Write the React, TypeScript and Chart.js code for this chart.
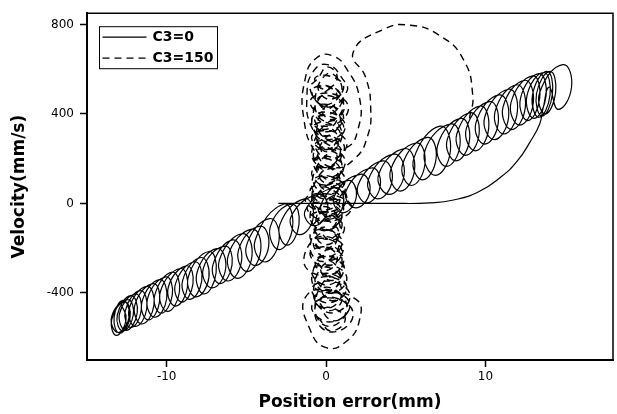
import React, { useEffect, useRef } from "react";
import { Chart, registerables } from "chart.js";

Chart.register(...registerables);

// Tick values
const xTickValues = [-10, 0, 10];
const yTickValues = [-400, 0, 400, 800];

// Series C3=0 (solid): looping band along the diagonal, then return arc and flat segment
const solidX = [
  -12.85, -12.55, -13.15, -13.45,
  -12.65, -12.3, -12.95, -13.3,
  -12.75, -12.35, -13.05, -13.45,
  -12.45, -12.1, -12.75, -13.1,
  -12.25, -11.85, -12.55, -12.95,
  -11.95, -11.6, -12.25, -12.6,
  -11.65, -11.25, -11.95, -12.35,
  -11.25, -10.8, -11.55, -12.0,
  -10.85, -10.45, -11.15, -11.55,
  -10.45, -10.0, -10.75, -11.2,
  -10.05, -9.65, -10.35, -10.75,
  -9.65, -9.2, -9.95, -10.4,
  -9.15, -8.7, -9.45, -9.9,
  -8.75, -8.35, -9.05, -9.45,
  -8.25, -7.8, -8.55, -9.0,
  -7.85, -7.35, -8.15, -8.65,
  -7.35, -6.9, -7.65, -8.1,
  -6.85, -6.3, -7.15, -7.7,
  -6.35, -5.9, -6.65, -7.1,
  -5.85, -5.3, -6.15, -6.7,
  -5.25, -4.65, -5.55, -6.15,
  -4.65, -4.1, -4.95, -5.5,
  -4.15, -3.6, -4.45, -5.0,
  -3.55, -2.95, -3.85, -4.45,
  -2.65, -2.1, -2.95, -3.5,
  -2.15, -1.7, -2.45, -2.9,
  -1.35, -0.8, -1.65, -2.2,
  -0.45, 0.1, -0.75, -1.3,
  0.55, 1.1, 0.25, -0.3,
  1.35, 1.9, 1.05, 0.5,
  2.15, 2.75, 1.85, 1.25,
  2.85, 3.4, 2.55, 2.0,
  3.55, 4.15, 3.25, 2.65,
  4.25, 4.9, 3.95, 3.3,
  4.95, 5.55, 4.65, 4.05,
  5.65, 6.2, 5.35, 4.8,
  6.35, 6.9, 6.05, 5.5,
  7.15, 7.8, 6.85, 6.2,
  7.85, 8.4, 7.55, 7.0,
  8.45, 9.0, 8.15, 7.6,
  9.05, 9.6, 8.75, 8.2,
  9.65, 10.2, 9.35, 8.8,
  10.25, 10.8, 9.95, 9.4,
  10.85, 11.45, 10.55, 9.95,
  11.45, 12.0, 11.15, 10.6,
  11.95, 12.5, 11.65, 11.1,
  12.45, 13.0, 12.15, 11.6,
  12.95, 13.4, 12.65, 12.2,
  13.35, 13.8, 13.05, 12.6,
  13.65, 14.05, 13.35, 12.95,
  13.85, 14.2, 13.55, 13.2,
  14.05, 14.4, 13.75, 13.4,
  14.85, 15.4, 14.55, 14.0,
  13.6, 13.4, 12.8, 12.0, 11.0, 9.6, 8.0, 6.5, 4.0, 1.0, -1.5, -3.0,
];
const solidY = [
  -450, -520, -590, -520,
  -440, -510, -580, -510,
  -433, -505, -577, -505,
  -430, -500, -570, -500,
  -412, -490, -568, -490,
  -405, -480, -555, -480,
  -390, -470, -550, -470,
  -371, -455, -539, -455,
  -359, -440, -521, -440,
  -341, -425, -509, -425,
  -329, -410, -491, -410,
  -307, -395, -483, -395,
  -291, -375, -459, -375,
  -279, -360, -441, -360,
  -261, -345, -429, -345,
  -242, -330, -418, -330,
  -215, -310, -405, -310,
  -202, -290, -378, -290,
  -191, -275, -359, -275,
  -163, -255, -347, -255,
  -135, -235, -335, -235,
  -115, -210, -305, -210,
  -102, -190, -278, -190,
  -68, -165, -262, -165,
  -3, -105, -207, -105,
  -3, -95, -187, -95,
  20, -60, -140, -60,
  40, -30, -100, -30,
  70, 0, -70, 0,
  102, 30, -42, 30,
  130, 55, -20, 55,
  158, 80, 2, 80,
  190, 105, 20, 105,
  220, 130, 40, 130,
  245, 150, 55, 150,
  270, 175, 80, 175,
  295, 200, 105, 200,
  345, 235, 125, 235,
  355, 260, 165, 260,
  380, 285, 190, 285,
  405, 310, 215, 310,
  435, 335, 235, 335,
  455, 360, 265, 360,
  485, 385, 285, 385,
  510, 410, 310, 410,
  530, 430, 330, 430,
  550, 450, 350, 450,
  570, 470, 370, 470,
  580, 480, 380, 480,
  585, 485, 385, 485,
  590, 490, 390, 490,
  590, 495, 400, 495,
  620, 520, 420, 520,
  420, 355, 275, 190, 120, 53, 15, 2, 0, 0, 0, 0,
];

// Series C3=150 (dashed): arc from the band up and over, then dense column near zero error
const dashedX = [
  9.0, 9.2, 8.6, 7.1, 5.3, 3.6, 1.7, 2.5, 2.8, 2.6, 1.8, 0.5, -0.6, -1.4, -1.3, -0.6, 0.4, 1.3, 2.1, 2.0, 1.3, 0.2, -0.9, -1.2, -0.8, 0.1, 1.0,
  1.3, 0.1, -0.9,
  0.1, 1.0, -0.1, -1.0,
  0.4, 1.4, 0.2, -0.8,
  0.2, 1.1, 0.0, -0.9,
  0.3, 1.2, 0.1, -0.8,
  0.1, 0.9, -0.1, -0.9,
  0.4, 1.3, 0.2, -0.7,
  0.2, 1.0, 0.0, -0.8,
  0.3, 1.2, 0.1, -0.8,
  0.1, 0.9, -0.1, -0.9,
  0.3, 1.2, 0.1, -0.8,
  0.2, 1.2, 0.0, -1.0,
  0.1, 1.3, -0.1, -1.3,
  0.3, 1.6, 0.1, -1.2,
  0.1, 1.0, -0.1, -1.0,
  0.2, 1.0, 0.0, -0.8,
  0.0, 0.8, -0.2, -1.0,
  0.2, 1.0, 0.0, -0.8,
  0.1, 1.0, -0.1, -1.0,
  0.3, 1.1, 0.1, -0.7,
  0.2, 1.1, 0.0, -0.9,
  0.4, 1.3, 0.2, -0.7,
  0.3, 1.3, 0.1, -0.9,
  0.5, 1.5, 0.3, -0.7,
  0.4, 1.5, 0.2, -0.9,
  0.6, 1.7, 0.4, -0.7,
  0.0, 1.9, 2.1, 1.3, 0.0, -1.0, -1.3,
  0.4, 1.3, 0.2, -0.7,
  0.2, 1.0, 0.0, -0.8,
  0.1, 0.9, -0.1, -0.9,
  0.3, 1.0, 0.1, -1.4,
  0.0, 0.8, -0.2, -1.0,
  0.2, 0.9, 0.0, -0.7,
  0.1, 1.0, -0.1, -1.0,
  0.3, 1.3, 0.1, -0.9,
  0.1, 0.9, -0.1, -0.9,
  0.3, 1.0, 0.1, -0.6,
  0.1, 0.9, -0.1, -0.9,
  0.3, 1.0, 0.1, -0.6,
  0.1, 0.9, -0.1, -0.9,
  0.3, 1.1, 0.1, -0.7,
  0.1, 1.0, -0.1, -1.0,
  -0.5,
  0.1, 0.7, -0.1, -0.7,
  0.4, 1.1, 0.2, -0.5,
  0.2, 0.7, 0.0, -0.5,
  0.5, 1.15, 0.3, -0.35,
  0.1, 0.7, -0.1, -0.7,
  0.4, 1.1, 0.2, -0.5,
  0.2, 0.7, 0.0, -0.5,
  0.5, 1.15, 0.3, -0.35,
  0.1, 0.7, -0.1, -0.7,
  0.4, 1.1, 0.2, -0.5,
  0.2, 0.7, 0.0, -0.5,
  0.5, 1.15, 0.3, -0.35,
  0.1, 0.9, -0.1, -0.9,
  0.4, 1.1, 0.2, -0.5,
  0.2, 0.7, 0.0, -0.5,
  0.5, 1.15, 0.3, -0.35,
  0.1, 0.7, -0.1, -0.7,
  0.4, 1.1, 0.2, -0.5,
  0.2, 0.7, 0.0, -0.5,
  0.5, 1.15, 0.3, -0.35,
  0.3, 0.9, 0.1, -0.5,
  0.6, 1.3, 0.4, -0.3,
  0.4, 1.0, 0.2, -0.4,
  0.7, 1.4, 0.5, -0.2,
  0.5, 1.2, 0.3, -0.4,
];
const dashedY = [
  380, 484, 645, 751, 796, 778, 675, 560, 420, 300, 200, 160, 220, 380, 560, 650, 660, 600, 470, 330, 250, 260, 340, 480, 590, 620, 560,
  500, 430, 500,
  525, 460, 395, 460,
  490, 420, 350, 420,
  440, 380, 320, 380,
  405, 340, 275, 340,
  360, 300, 240, 300,
  322, 260, 198, 260,
  280, 220, 160, 220,
  245, 180, 115, 180,
  200, 140, 80, 140,
  160, 100, 40, 100,
  122, 60, -2, 60,
  80, 20, -40, 20,
  40, -20, -80, -20,
  2, -60, -122, -60,
  -40, -100, -160, -100,
  -75, -140, -205, -140,
  -120, -180, -240, -180,
  -158, -220, -282, -220,
  -200, -260, -320, -260,
  -235, -300, -365, -300,
  -278, -340, -402, -340,
  -315, -380, -445, -380,
  -350, -420, -490, -420,
  -390, -460, -530, -460,
  -425, -500, -575, -500,
  -410, -430, -520, -615, -645, -565, -420,
  -390, -470, -550, -470,
  -330, -400, -470, -400,
  -260, -330, -400, -330,
  -195, -260, -325, -260,
  -120, -190, -260, -190,
  -55, -120, -185, -120,
  20, -50, -120, -50,
  90, 20, -50, 20,
  160, 90, 20, 90,
  230, 160, 90, 160,
  300, 230, 160, 230,
  370, 300, 230, 300,
  440, 370, 300, 370,
  515, 440, 365, 440,
  580, 510, 440, 510,
  560,
  610, 560, 510, 560,
  565, 515, 465, 515,
  520, 470, 420, 470,
  475, 425, 375, 425,
  430, 380, 330, 380,
  385, 335, 285, 335,
  340, 290, 240, 290,
  295, 245, 195, 245,
  250, 200, 150, 200,
  205, 155, 105, 155,
  160, 110, 60, 110,
  115, 65, 15, 65,
  70, 20, -30, 20,
  25, -25, -75, -25,
  -20, -70, -120, -70,
  -65, -115, -165, -115,
  -110, -160, -210, -160,
  -155, -205, -255, -205,
  -200, -250, -300, -250,
  -245, -295, -345, -295,
  -290, -340, -390, -340,
  -335, -385, -435, -385,
  -380, -430, -480, -430,
  -425, -475, -525, -475,
  -470, -520, -570, -520,
];

const seriesLabels = ["C3=0", "C3=150"];

function toPoints(xs: number[], ys: number[]) {
  const n = Math.min(xs.length, ys.length);
  const pts: { x: number; y: number }[] = [];
  for (let i = 0; i < n; i++) pts.push({ x: xs[i], y: ys[i] });
  return pts;
}

const DASH = [7, 5];

const framePlugin = {
  id: "frameAndLegend",
  afterDraw(chart: any) {
    const { ctx, chartArea } = chart;
    const { left, top, right, bottom } = chartArea;
    ctx.save();
    ctx.strokeStyle = "#000";
    ctx.lineWidth = 1.5;
    ctx.setLineDash([]);
    ctx.beginPath();
    ctx.moveTo(left, top);
    ctx.lineTo(right, top);
    ctx.lineTo(right, bottom);
    ctx.stroke();

    const bx = left + 12.5;
    const by = top + 13.5;
    const bw = 118;
    const bh = 42;
    ctx.fillStyle = "#fff";
    ctx.fillRect(bx, by, bw, bh);
    ctx.lineWidth = 1;
    ctx.strokeRect(bx, by, bw, bh);
    const rows = [by + 10.5, by + 31.5];
    chart.data.datasets.forEach((ds: any, i: number) => {
      if (i > 1) return;
      const y = rows[i];
      ctx.beginPath();
      ctx.lineWidth = 1.3;
      ctx.setLineDash(ds.borderDash || []);
      ctx.moveTo(bx + 3, y);
      ctx.lineTo(bx + 47, y);
      ctx.stroke();
      ctx.setLineDash([]);
      ctx.fillStyle = "#000";
      ctx.font = 'bold 14px "DejaVu Sans"';
      ctx.textBaseline = "middle";
      ctx.textAlign = "left";
      ctx.fillText(ds.label, bx + 53, y + 0.5);
    });
    ctx.restore();
  },
};

export default function App() {
  const canvasRef = useRef<HTMLCanvasElement | null>(null);

  useEffect(() => {
    document.body.style.margin = "0";
    const canvas = canvasRef.current;
    if (!canvas) return;
    const tickFont = { family: '"DejaVu Sans"', size: 12 };
    const titleFont = { family: '"DejaVu Sans"', size: 17, weight: "bold" as const };
    const chart = new Chart(canvas, {
      type: "scatter",
      data: {
        datasets: [
          {
            label: seriesLabels[0],
            data: toPoints(solidX, solidY),
            showLine: true,
            borderColor: "#000",
            borderWidth: 1.2,
            pointRadius: 0,
            tension: 0.5,
            fill: false,
          },
          {
            label: seriesLabels[1],
            data: toPoints(dashedX, dashedY),
            showLine: true,
            borderColor: "#000",
            borderWidth: 1.4,
            borderDash: DASH,
            pointRadius: 0,
            tension: 0.5,
            fill: false,
          },
        ],
      },
      options: {
        responsive: false,
        animation: false,
        devicePixelRatio: 1,
        layout: { padding: { top: 10, right: 4, left: 0, bottom: 0 } },
        plugins: {
          legend: { display: false },
          tooltip: { enabled: false },
        },
        scales: {
          x: {
            type: "linear",
            min: -15,
            max: 18,
            afterBuildTicks: (scale: any) => {
              scale.ticks = xTickValues.map((v) => ({ value: v }));
            },
            afterFit: (scale: any) => {
              scale.height = 54;
            },
            grid: {
              display: true,
              drawOnChartArea: false,
              drawTicks: true,
              tickLength: 7,
              tickColor: "#000",
              tickWidth: 1.5,
            },
            border: { display: true, color: "#000", width: 2 },
            ticks: {
              color: "#000",
              font: tickFont,
              padding: 3,
              maxRotation: 0,
              callback: (v: any) => String(v),
            },
            title: {
              display: true,
              text: "Position error(mm)",
              color: "#000",
              font: titleFont,
              padding: { top: 0, bottom: 1 },
            },
          },
          y: {
            type: "linear",
            min: -700,
            max: 850,
            afterBuildTicks: (scale: any) => {
              scale.ticks = yTickValues.map((v) => ({ value: v }));
            },
            afterFit: (scale: any) => {
              scale.width = 87;
            },
            grid: {
              display: true,
              drawOnChartArea: false,
              drawTicks: true,
              tickLength: 7,
              tickColor: "#000",
              tickWidth: 1.5,
            },
            border: { display: true, color: "#000", width: 2 },
            ticks: {
              color: "#000",
              font: tickFont,
              padding: 6,
              callback: (v: any) => String(v),
            },
            title: {
              display: true,
              text: "Velocity(mm/s)",
              color: "#000",
              font: titleFont,
              padding: { top: 9, bottom: 0 },
            },
          },
        },
      },
      plugins: [framePlugin],
    });
    return () => chart.destroy();
  }, []);

  return (
    <div style={{ width: 617, height: 414 }}>
      <canvas ref={canvasRef} width={617} height={414} style={{ display: "block" }} />
    </div>
  );
}
